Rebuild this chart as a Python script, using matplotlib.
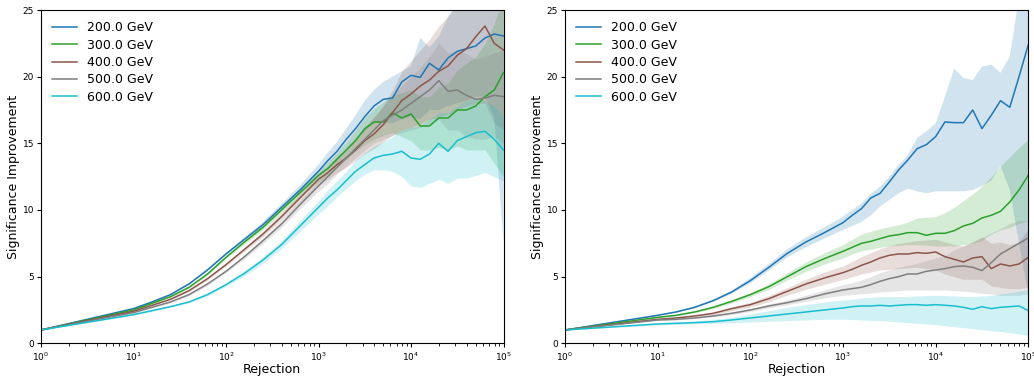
import numpy as np
import matplotlib
matplotlib.use("Agg")
import matplotlib.pyplot as plt

# sample points, as log10(rejection)
log_rejection = [0.0, 1.0, 1.2, 1.4, 1.6, 1.8, 2.0, 2.2, 2.4, 2.6, 2.8, 3.0,
                 3.1, 3.2, 3.3, 3.4, 3.5, 3.6, 3.7, 3.8, 3.9, 4.0,
                 4.1, 4.2, 4.3, 4.4, 4.5, 4.6, 4.7, 4.8, 4.9, 5.0]
labels = ["200.0 GeV", "300.0 GeV", "400.0 GeV", "500.0 GeV", "600.0 GeV"]
colors = ["tab:blue", "tab:green", "tab:brown", "tab:gray", "tab:cyan"]

# ---------------- left panel ----------------
blue_L = [1.0, 2.6, 3.1, 3.65, 4.45, 5.5, 6.7, 7.8, 8.9, 10.2, 11.5, 12.9, 13.7, 14.4, 15.3, 16.1, 17.0, 17.8, 18.3, 18.4, 19.6, 20.1, 19.95, 21.0, 20.5, 21.4, 21.9, 22.1, 22.3, 22.9, 23.2, 23.05]
blue_L_lo = [1.0, 2.55, 3.05, 3.58, 4.37, 5.4, 6.6, 7.65, 8.7, 9.95, 11.15, 12.4, 13.1, 13.7, 14.5, 15.2, 15.9, 16.5, 16.6, 16.5, 16.8, 17.0, 16.8, 17.5, 17.5, 17.8, 18.0, 18.2, 18.5, 18.5, 17.0, 7.5]
blue_L_hi = [1.0, 2.65, 3.15, 3.72, 4.53, 5.6, 6.8, 7.95, 9.1, 10.45, 11.85, 13.4, 14.3, 15.1, 16.1, 17.1, 18.2, 19.0, 19.6, 20.0, 20.4, 20.8, 22.9, 22.2, 23.0, 24.5, 25.5, 26.0, 26.0, 27.0, 28.0, 38.0]

green_L = [1.0, 2.5, 3.0, 3.5, 4.2, 5.2, 6.45, 7.6, 8.7, 10.0, 11.3, 12.6, 13.1, 13.8, 14.5, 15.2, 16.1, 16.6, 16.6, 17.3, 16.9, 17.2, 16.3, 16.3, 16.9, 16.9, 17.5, 17.5, 17.8, 18.5, 19.0, 20.3]
green_L_lo = [1.0, 2.45, 2.95, 3.44, 4.12, 5.1, 6.35, 7.45, 8.5, 9.75, 11.0, 12.1, 12.6, 13.2, 13.8, 14.4, 14.9, 15.3, 15.6, 15.8, 15.5, 15.2, 14.5, 14.5, 14.7, 14.5, 14.8, 14.5, 14.5, 14.5, 13.5, 12.5]
green_L_hi = [1.0, 2.55, 3.05, 3.56, 4.28, 5.3, 6.55, 7.75, 8.9, 10.25, 11.6, 12.9, 13.6, 14.3, 15.1, 16.0, 16.9, 17.6, 18.1, 18.6, 18.8, 19.0, 18.5, 18.5, 19.2, 19.5, 20.5, 21.0, 21.5, 22.5, 24.0, 26.0]

brown_L = [1.0, 2.4, 2.85, 3.3, 3.95, 4.85, 5.9, 7.05, 8.2, 9.5, 10.9, 12.3, 12.8, 13.4, 13.9, 14.5, 15.2, 15.7, 16.4, 17.3, 18.2, 18.7, 19.3, 19.75, 20.4, 20.8, 21.6, 22.1, 23.0, 23.8, 22.5, 22.0]
brown_L_lo = [1.0, 2.35, 2.8, 3.24, 3.87, 4.75, 5.8, 6.9, 8.0, 9.25, 10.6, 11.9, 12.3, 12.8, 13.2, 13.7, 14.2, 14.6, 15.1, 15.6, 16.0, 16.2, 16.5, 16.8, 17.0, 17.2, 17.5, 17.8, 18.0, 18.0, 16.5, 16.0]
brown_L_hi = [1.0, 2.45, 2.9, 3.36, 4.03, 4.95, 6.0, 7.2, 8.4, 9.75, 11.2, 12.7, 13.3, 14.0, 14.6, 15.3, 16.2, 16.9, 17.8, 19.0, 20.4, 21.2, 22.0, 22.8, 23.8, 24.5, 25.5, 26.5, 27.5, 28.5, 28.5, 28.0]

gray_L = [1.0, 2.3, 2.7, 3.1, 3.65, 4.45, 5.4, 6.5, 7.7, 8.95, 10.4, 11.8, 12.5, 13.2, 13.9, 14.6, 15.3, 16.0, 16.7, 17.1, 17.5, 18.0, 18.5, 19.0, 19.7, 18.9, 19.0, 18.6, 18.3, 18.4, 18.6, 18.5]
gray_L_lo = [1.0, 2.25, 2.65, 3.04, 3.57, 4.35, 5.3, 6.35, 7.5, 8.7, 10.1, 11.4, 12.0, 12.7, 13.3, 13.9, 14.5, 15.0, 15.3, 15.6, 15.8, 16.0, 16.2, 16.5, 16.8, 16.0, 16.0, 15.5, 15.3, 15.3, 15.5, 15.0]
gray_L_hi = [1.0, 2.35, 2.75, 3.16, 3.73, 4.55, 5.5, 6.65, 7.9, 9.2, 10.7, 12.2, 13.0, 13.8, 14.6, 15.4, 16.2, 17.0, 17.8, 18.6, 19.3, 20.0, 20.7, 21.5, 22.5, 21.8, 22.0, 21.7, 21.3, 21.5, 21.8, 22.0]

cyan_L = [1.0, 2.15, 2.45, 2.75, 3.1, 3.65, 4.4, 5.25, 6.25, 7.4, 8.8, 10.2, 10.9, 11.5, 12.2, 12.9, 13.4, 13.9, 14.1, 14.2, 14.4, 13.9, 13.8, 14.2, 15.0, 14.4, 15.2, 15.5, 15.8, 15.9, 15.3, 14.5]
cyan_L_lo = [1.0, 2.1, 2.4, 2.7, 3.03, 3.55, 4.28, 5.05, 6.0, 7.1, 8.4, 9.7, 10.3, 11.0, 11.6, 12.2, 12.7, 13.0, 13.0, 12.9, 12.5, 11.8, 11.7, 12.0, 12.3, 12.0, 12.4, 12.4, 12.6, 12.8, 12.5, 12.2]
cyan_L_hi = [1.0, 2.2, 2.5, 2.8, 3.17, 3.75, 4.52, 5.45, 6.5, 7.7, 9.2, 10.7, 11.5, 12.2, 12.9, 13.7, 14.3, 14.8, 15.1, 15.5, 16.0, 16.2, 16.3, 16.8, 17.3, 17.3, 17.8, 18.2, 18.4, 18.2, 17.8, 17.0]

# ---------------- right panel ----------------
blue_R = [1.0, 2.1, 2.35, 2.7, 3.2, 3.85, 4.7, 5.7, 6.75, 7.6, 8.3, 9.05, 9.6, 10.1, 10.9, 11.25, 12.1, 13.0, 13.75, 14.6, 14.9, 15.5, 16.6, 16.55, 16.55, 17.5, 16.1, 17.1, 18.2, 17.7, 20.0, 22.4]
blue_R_lo = [1.0, 2.05, 2.3, 2.63, 3.1, 3.72, 4.5, 5.45, 6.45, 7.2, 7.85, 8.5, 8.8, 9.1, 9.6, 10.25, 10.75, 11.25, 11.6, 11.4, 11.25, 11.4, 11.4, 11.4, 11.4, 11.5, 11.8, 12.2, 13.3, 11.5, 7.5, 3.7]
blue_R_hi = [1.0, 2.15, 2.4, 2.77, 3.3, 3.98, 4.9, 5.95, 7.05, 7.95, 8.7, 9.5, 10.0, 10.5, 11.2, 11.75, 12.5, 13.4, 14.1, 15.4, 15.9, 16.5, 18.5, 20.6, 19.9, 19.75, 20.75, 20.9, 20.3, 21.5, 26.0, 40.0]

green_R = [1.0, 1.95, 2.1, 2.35, 2.7, 3.15, 3.65, 4.25, 5.0, 5.75, 6.35, 6.9, 7.2, 7.5, 7.65, 7.85, 8.05, 8.15, 8.3, 8.3, 8.1, 8.25, 8.25, 8.45, 8.8, 9.0, 9.4, 9.6, 9.9, 10.6, 11.5, 12.6]
green_R_lo = [1.0, 1.9, 2.05, 2.28, 2.6, 3.02, 3.5, 4.05, 4.75, 5.4, 5.95, 6.4, 6.7, 6.95, 7.05, 7.2, 7.3, 7.35, 7.4, 7.4, 7.35, 7.3, 7.3, 7.3, 7.4, 7.5, 7.7, 8.2, 8.5, 8.7, 9.0, 9.2]
green_R_hi = [1.0, 2.0, 2.15, 2.42, 2.8, 3.28, 3.8, 4.45, 5.3, 6.1, 6.8, 7.4, 7.8, 8.2, 8.4, 8.6, 8.75, 8.9, 9.1, 9.4, 9.45, 9.5, 9.8, 10.2, 10.7, 11.2, 11.8, 12.5, 13.3, 14.0, 14.7, 15.3]

brown_R = [1.0, 1.8, 1.9, 2.05, 2.25, 2.6, 2.9, 3.35, 3.9, 4.45, 4.9, 5.3, 5.55, 5.85, 6.1, 6.4, 6.6, 6.7, 6.7, 6.8, 6.75, 6.85, 6.5, 6.3, 6.1, 6.4, 6.5, 5.6, 5.95, 5.8, 5.95, 6.45]
brown_R_lo = [1.0, 1.75, 1.85, 1.98, 2.15, 2.45, 2.72, 3.12, 3.62, 4.05, 4.42, 4.8, 5.0, 5.2, 5.35, 5.5, 5.55, 5.6, 5.65, 5.7, 5.6, 5.5, 5.2, 5.0, 4.8, 4.8, 4.8, 4.3, 4.2, 4.1, 4.1, 4.2]
brown_R_hi = [1.0, 1.85, 1.95, 2.12, 2.35, 2.75, 3.08, 3.58, 4.18, 4.8, 5.35, 5.8, 6.15, 6.5, 6.8, 7.1, 7.3, 7.5, 7.6, 7.7, 7.75, 7.8, 7.6, 7.4, 7.3, 7.6, 8.0, 7.5, 7.6, 7.4, 7.6, 8.6]

gray_R = [1.0, 1.75, 1.8, 1.9, 2.05, 2.25, 2.5, 2.8, 3.05, 3.35, 3.7, 4.0, 4.1, 4.2, 4.4, 4.65, 4.85, 5.0, 5.2, 5.2, 5.4, 5.5, 5.6, 5.75, 5.8, 5.7, 5.45, 6.05, 6.7, 7.1, 7.5, 7.9]
gray_R_lo = [1.0, 1.7, 1.75, 1.84, 1.97, 2.15, 2.4, 2.65, 2.9, 3.15, 3.4, 3.6, 3.65, 3.7, 3.78, 3.85, 3.9, 3.95, 4.0, 4.0, 4.0, 4.0, 4.0, 3.95, 3.9, 3.85, 3.75, 3.7, 3.6, 3.6, 3.6, 3.7]
gray_R_hi = [1.0, 1.8, 1.85, 1.96, 2.13, 2.35, 2.6, 2.95, 3.25, 3.6, 4.0, 4.4, 4.55, 4.75, 5.0, 5.3, 5.5, 5.7, 5.85, 6.0, 6.2, 6.4, 6.6, 7.0, 7.3, 7.6, 7.9, 8.3, 8.6, 9.0, 9.2, 9.2]

cyan_R = [1.0, 1.45, 1.5, 1.55, 1.62, 1.75, 1.9, 2.05, 2.2, 2.35, 2.5, 2.65, 2.75, 2.8, 2.8, 2.85, 2.8, 2.85, 2.9, 2.9, 2.85, 2.9, 2.85, 2.8, 2.7, 2.55, 2.75, 2.6, 2.7, 2.75, 2.8, 2.45]
cyan_R_lo = [1.0, 1.38, 1.42, 1.45, 1.5, 1.55, 1.6, 1.65, 1.7, 1.75, 1.8, 1.8, 1.78, 1.75, 1.72, 1.7, 1.65, 1.6, 1.55, 1.5, 1.45, 1.4, 1.32, 1.25, 1.18, 1.1, 1.02, 0.95, 0.88, 0.8, 0.7, 0.6]
cyan_R_hi = [1.0, 1.52, 1.58, 1.68, 1.8, 1.95, 2.2, 2.45, 2.7, 2.9, 3.1, 3.25, 3.3, 3.4, 3.45, 3.5, 3.5, 3.5, 3.52, 3.55, 3.58, 3.6, 3.58, 3.55, 3.52, 3.5, 3.55, 3.6, 3.7, 3.8, 3.9, 4.0]

left_series = [(blue_L, blue_L_lo, blue_L_hi), (green_L, green_L_lo, green_L_hi),
               (brown_L, brown_L_lo, brown_L_hi), (gray_L, gray_L_lo, gray_L_hi),
               (cyan_L, cyan_L_lo, cyan_L_hi)]
right_series = [(blue_R, blue_R_lo, blue_R_hi), (green_R, green_R_lo, green_R_hi),
                (brown_R, brown_R_lo, brown_R_hi), (gray_R, gray_R_lo, gray_R_hi),
                (cyan_R, cyan_R_lo, cyan_R_hi)]

rejection = np.power(10.0, np.array(log_rejection))

fig = plt.figure(figsize=(10.34, 3.79), dpi=100)
ax_l = fig.add_axes([41 / 1034, 1 - 343.3 / 379, 462.5 / 1034, 333.3 / 379])
ax_r = fig.add_axes([565 / 1034, 1 - 343.3 / 379, 463.3 / 1034, 333.3 / 379])

for ax, series in [(ax_l, left_series), (ax_r, right_series)]:
    for (y, lo, hi), lab, c in zip(series, labels, colors):
        ax.plot(rejection, y, color=c, lw=1.1, label=lab)
        ax.fill_between(rejection, lo, hi, color=c, alpha=0.2, linewidth=0)
    ax.set_xscale("log")
    ax.set_xlim(1, 1e5)
    ax.set_ylim(0, 25)
    ax.set_yticks([0, 5, 10, 15, 20, 25])
    ax.tick_params(which="major", labelsize=6.5, length=3, pad=2)
    ax.tick_params(which="minor", length=1.8)
    ax.set_xlabel("Rejection", fontsize=9, labelpad=0.5)
    ax.set_ylabel("Significance Improvement", fontsize=9, labelpad=2)
    ax.legend(loc="upper left", frameon=False, fontsize=9, labelspacing=0.35)

fig.savefig("out.png", dpi=100)
